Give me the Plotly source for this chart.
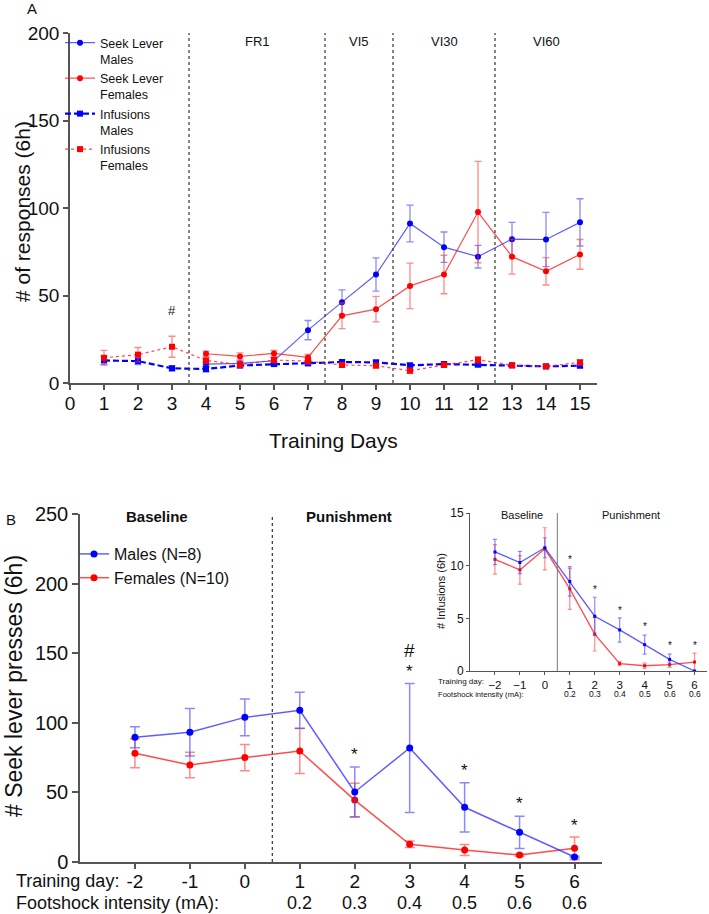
import plotly.graph_objects as go

W, H = 709, 914

# ---------------- Panel A data ----------------
days_a = list(range(1, 16))
seek_days = list(range(4, 16))
seek_m = [10.8, 11.2, 12.7, 30.2, 46.2, 62.0, 91.2, 77.6, 72.2, 82.2, 82.0, 91.8]
seek_m_err = [1.5, 1.5, 1.5, 5.5, 7.0, 9.5, 10.5, 8.7, 6.5, 9.6, 15.5, 13.5]
seek_f = [16.7, 15.2, 16.9, 14.6, 38.4, 42.2, 55.5, 62.0, 97.7, 72.2, 63.8, 73.5]
seek_f_err = [1.5, 2.0, 1.7, 1.7, 7.3, 7.3, 13.0, 11.0, 29.0, 10.0, 7.8, 8.5]
inf_m = [12.9, 12.5, 8.4, 8.0, 10.0, 10.8, 11.2, 12.0, 11.8, 10.1, 10.8, 10.5, 10.1, 9.5, 9.9]
inf_m_err = [2.3, 2.0, 1.5, 1.7, 1.3, 1.2, 1.2, 1.2, 1.2, 1.2, 1.2, 1.2, 1.0, 1.0, 1.2]
inf_f = [14.4, 16.2, 20.7, 12.9, 10.5, 13.1, 12.5, 10.3, 9.9, 7.0, 10.3, 13.3, 10.1, 9.5, 11.8]
inf_f_err = [4.2, 4.1, 6.0, 1.5, 1.5, 1.5, 1.5, 1.2, 1.2, 1.5, 1.2, 1.8, 1.0, 1.0, 1.5]
phase_bounds = [3.5, 7.5, 9.5, 12.5]
phase_labels = ["FR1", "VI5", "VI30", "VI60"]
phase_centers = [5.5, 8.5, 11, 14]
hash_a = {"x": 3, "y": 41.5}

# ---------------- Panel B data ----------------
days_b = [-2, -1, 0, 1, 2, 3, 4, 5, 6]
shock_b = ["", "", "", "0.2", "0.3", "0.4", "0.5", "0.6", "0.6"]
press_m = [89.6, 93.2, 103.9, 109.0, 50.3, 81.9, 39.3, 21.3, 3.6]
press_m_err = [7.6, 17.1, 13.2, 12.9, 17.9, 46.4, 17.7, 11.6, 0.5]
press_f = [78.1, 69.7, 75.0, 79.7, 44.5, 12.7, 8.6, 5.0, 9.8]
press_f_err = [10.4, 9.1, 9.4, 16.2, 12.0, 2.3, 4.0, 0.8, 8.2]
star_b_days = [2, 3, 4, 5, 6]
star_b_y = [81, 140.6, 69.4, 45.5, 29.7]
hash_b = {"x": 3, "y": 152}

# ---------------- Inset data ----------------
inf_b_m = [11.3, 10.3, 11.7, 8.5, 5.2, 3.9, 2.5, 1.1, 0.0]
inf_b_m_err = [1.2, 1.05, 0.95, 1.4, 1.8, 1.15, 0.9, 0.5, 0.0]
inf_b_f = [10.6, 9.6, 11.6, 7.8, 3.5, 0.7, 0.5, 0.6, 0.85]
inf_b_f_err = [1.4, 1.35, 2.0, 1.95, 1.6, 0.2, 0.25, 0.25, 0.85]
star_in_days = [1, 2, 3, 4, 5, 6]
star_in_y = [10.6, 7.7, 5.7, 4.2, 2.4, 2.4]

BLUE = "#0000ff"
RED = "#ff0000"
BLUE_L = "rgba(40,40,255,0.75)"
RED_L = "rgba(255,30,30,0.8)"
BLUE_E = "rgba(60,60,255,0.6)"
RED_E = "rgba(255,60,60,0.6)"
AX = "#555555"
FONT = "Liberation Sans, Arial, sans-serif"
TXT = "#111111"


def px_x(p):
    return p / W


def px_y(p):
    return 1 - p / H


fig = go.Figure()


def add_a(x, y, err, name, color, lcolor, ecolor, dash, width, symbol, size):
    fig.add_trace(go.Scatter(
        x=x, y=y, name=name, mode="lines+markers", xaxis="x", yaxis="y",
        line=dict(color=lcolor, width=width, dash=dash),
        marker=dict(color=color, symbol=symbol, size=size),
        error_y=dict(type="data", array=err, color=ecolor, thickness=1.3, width=3.5),
        legend="legend",
    ))


add_a(seek_days, seek_m, seek_m_err, "Seek Lever<br>Males", BLUE, BLUE_L, BLUE_E, "solid", 1.2, "circle", 6)
add_a(seek_days, seek_f, seek_f_err, "Seek Lever<br>Females", RED, RED_L, RED_E, "solid", 1.2, "circle", 6)
add_a(days_a, inf_m, inf_m_err, "Infusions<br>Males", BLUE, BLUE, BLUE_E, "6px,3px", 2.2, "square", 6)
add_a(days_a, inf_f, inf_f_err, "Infusions<br>Females", RED, RED_L, RED_E, "dot", 1.2, "square", 6)


def add_b(x, y, err, name, color, lcolor, ecolor):
    fig.add_trace(go.Scatter(
        x=x, y=y, name=name, mode="lines+markers", xaxis="x2", yaxis="y2",
        line=dict(color=lcolor, width=1.5),
        marker=dict(color=color, symbol="circle", size=7),
        error_y=dict(type="data", array=err, color=ecolor, thickness=1.5, width=5),
        legend="legend2",
    ))


add_b(days_b, press_f, press_f_err, "Females (N=10)", RED, RED_L, RED_E)
add_b(days_b, press_m, press_m_err, "Males (N=8)", BLUE, BLUE_L, BLUE_E)


def add_in(x, y, err, color, lcolor, ecolor):
    fig.add_trace(go.Scatter(
        x=x, y=y, mode="lines+markers", xaxis="x3", yaxis="y3", showlegend=False,
        line=dict(color=lcolor, width=1.3),
        marker=dict(color=color, symbol="square", size=3),
        error_y=dict(type="data", array=err, color=ecolor, thickness=1.2, width=2),
    ))


add_in(days_b, inf_b_f, inf_b_f_err, RED, RED_L, RED_E)
add_in(days_b, inf_b_m, inf_b_m_err, BLUE, BLUE_L, BLUE_E)

shapes = []
for b in phase_bounds:
    shapes.append(dict(type="line", xref="x", yref="y", x0=b, x1=b, y0=0, y1=200,
                       line=dict(color="#333333", width=1.2, dash="dot")))
shapes.append(dict(type="line", xref="x2", yref="y2", x0=0.5, x1=0.5, y0=0, y1=250,
                   line=dict(color="#333333", width=1.2, dash="dot")))
shapes.append(dict(type="line", xref="x3", yref="y3", x0=0.5, x1=0.5, y0=0, y1=15,
                   line=dict(color="#777777", width=1)))

ann = []


def text(x, y, t, size, xref="paper", yref="paper", xanchor="center", yanchor="middle",
         bold=False, angle=0, yshift=0):
    ann.append(dict(x=x, y=y, xref=xref, yref=yref, text=("<b>%s</b>" % t) if bold else t,
                    showarrow=False, xanchor=xanchor, yanchor=yanchor, textangle=angle,
                    yshift=yshift, borderpad=0,
                    font=dict(size=size, color=TXT, family=FONT)))


text(px_x(26), px_y(9), "A", 15, xanchor="left")
text(px_x(5), px_y(519), "B", 15, xanchor="left")
for lab, c in zip(phase_labels, phase_centers):
    text(c, 195, lab, 13, xref="x", yref="y")
text(hash_a["x"], hash_a["y"], "#", 13, xref="x", yref="y")
text(px_x(22), px_y(212), "# of responses (6h)", 21, angle=-90)
text(px_x(333), px_y(440), "Training Days", 21)

# Panel B annotations
text(-1.6, 248, "Baseline", 15, xref="x2", yref="y2", bold=True)
text(1.9, 248, "Punishment", 15, xref="x2", yref="y2", bold=True)
for d, yv in zip(star_b_days, star_b_y):
    text(d, yv, "*", 17, xref="x2", yref="y2", yshift=-5)
text(hash_b["x"], hash_b["y"], "#", 19, xref="x2", yref="y2")
text(px_x(15), px_y(881), "Training day:", 18, xanchor="left")
text(px_x(15), px_y(913.5), "Footshock intensity (mA):", 18, xanchor="left", yanchor="bottom")
for d, s in zip(days_b, shock_b):
    if s:
        text(d, px_y(913.5), s, 18, xref="x2", yanchor="bottom")
text(px_x(14), px_y(686), "# Seek lever presses (6h)", 23, angle=-90)

# Inset annotations
text(-0.9, 14.8, "Baseline", 11, xref="x3", yref="y3")
text(3.45, 14.8, "Punishment", 11, xref="x3", yref="y3")
for d, yv in zip(star_in_days, star_in_y):
    text(d, yv, "*", 10, xref="x3", yref="y3")
for d, s in zip(days_b, shock_b):
    if s:
        text(d, px_y(694), s, 8.5, xref="x3")
text(px_x(437), px_y(681), "Training day:", 8, xanchor="left")
text(px_x(437), px_y(694), "Footshock intensity (mA):", 7.6, xanchor="left")
text(px_x(441), px_y(591), "# Infusions (6h)", 11, angle=-90)

axis_common = dict(showline=True, linecolor=AX, ticks="outside", tickcolor=AX,
                   showgrid=False, zeroline=False, fixedrange=True, automargin=False)

fig.update_layout(
    width=W, height=H, margin=dict(l=0, r=0, t=0, b=0, autoexpand=False),
    paper_bgcolor="white", plot_bgcolor="white",
    font=dict(family=FONT, color=TXT),
    xaxis=dict(domain=[px_x(70), px_x(597)], range=[0, 15.5], tickvals=list(range(0, 16)),
               ticklen=5, linewidth=1.5, tickwidth=1.5, tickfont=dict(size=19), anchor="y",
               ticklabelstandoff=-3, **axis_common),
    yaxis=dict(domain=[px_y(383), px_y(33)], range=[0, 200], tickvals=[0, 50, 100, 150, 200],
               ticklen=5, linewidth=1.5, tickwidth=1.5, tickfont=dict(size=19), anchor="x",
               **axis_common),
    xaxis2=dict(domain=[px_x(80), px_x(602)], range=[-3, 6.5], tickvals=days_b,
                ticktext=[str(d) for d in days_b], ticklabelstandoff=-4,
                ticklen=5, linewidth=1.5, tickwidth=1.5, tickfont=dict(size=19), anchor="y2",
                **axis_common),
    yaxis2=dict(domain=[px_y(862), px_y(514)], range=[0, 250], tickvals=[0, 50, 100, 150, 200, 250],
                ticklen=6, linewidth=1.5, tickwidth=1.5, tickfont=dict(size=20), anchor="x2",
                **axis_common),
    xaxis3=dict(domain=[px_x(470), px_x(707)], range=[-3, 6.5], tickvals=days_b,
                ticklen=3, linewidth=1, tickwidth=1, tickfont=dict(size=11.5), anchor="y3",
                **axis_common),
    yaxis3=dict(domain=[px_y(671), px_y(513)], range=[0, 15], tickvals=[0, 5, 10, 15],
                ticklen=3, linewidth=1, tickwidth=1, tickfont=dict(size=12), anchor="x3",
                **axis_common),
    legend=dict(x=px_x(60), y=px_y(28), xanchor="left", yanchor="top",
                bgcolor="rgba(0,0,0,0)", font=dict(size=12.5, family=FONT, color=TXT),
                itemwidth=30, valign="top", tracegroupgap=0),
    legend2=dict(x=px_x(74), y=px_y(537), xanchor="left", yanchor="top",
                 bgcolor="rgba(0,0,0,0)", font=dict(size=16, family=FONT, color=TXT),
                 itemwidth=30, traceorder="reversed"),
    shapes=shapes,
    annotations=ann,
)

fig.write_html("out.html")
